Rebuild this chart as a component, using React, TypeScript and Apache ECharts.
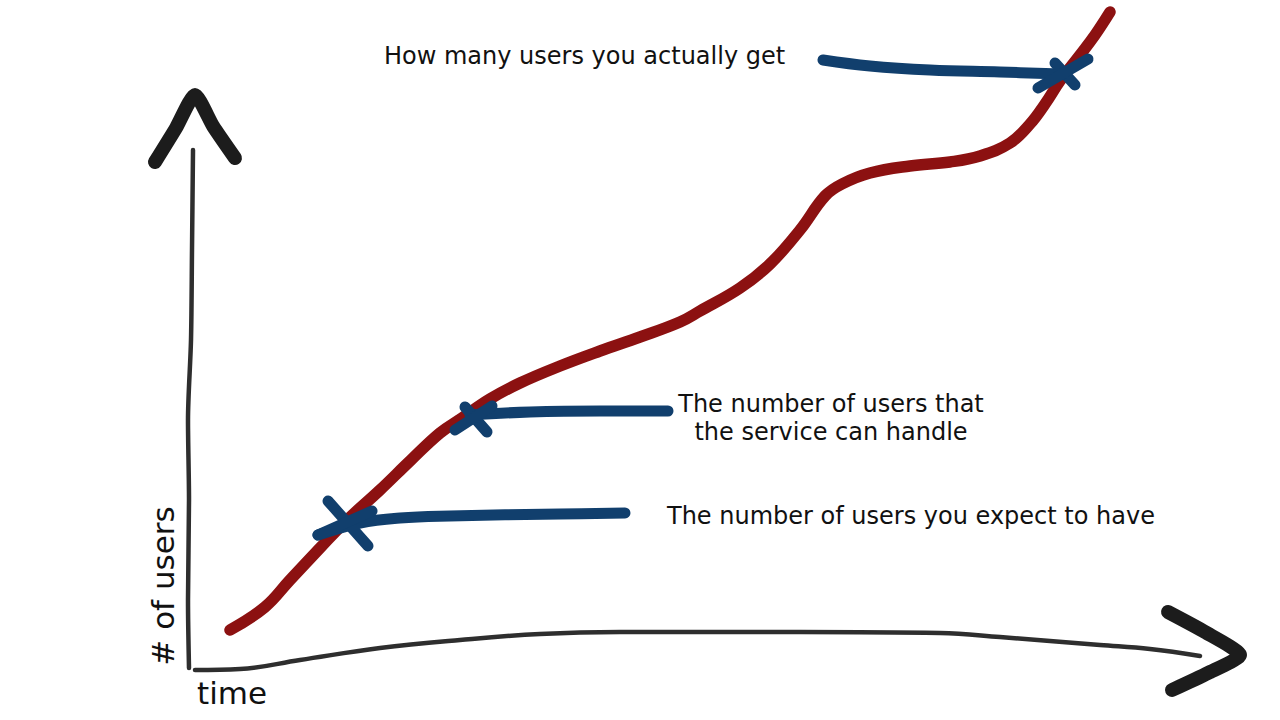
import React, { useEffect, useRef } from "react";
import * as echarts from "echarts";

// Sketch coordinates: time (x, left→right) and height on the page (y, top→bottom, axis inverted)
type Pt = [number, number];

const actualUsers: Pt[] = [
  [230, 630], [265, 607], [290, 580], [320, 548], [345, 522], [380, 490], [410, 461],
  [440, 433], [462, 418], [490, 399], [520, 383], [560, 366], [600, 351], [640, 337],
  [680, 322], [700, 311], [740, 288], [770, 264], [800, 230], [825, 196], [842, 184],
  [870, 173], [910, 166], [950, 162], [980, 156], [1010, 143], [1030, 124], [1045, 104],
  [1060, 81], [1080, 55], [1095, 35], [1110, 12],
];

const yAxisLine: Pt[] = [
  [193, 150], [192, 250], [191, 340], [188, 420], [189, 500], [188, 600], [189, 668],
];
const yArrowHead: Pt[] = [[155, 162], [176, 128], [195, 95], [213, 126], [235, 158]];

const xAxisLine: Pt[] = [
  [195, 670], [240, 669], [300, 660], [380, 648], [460, 640], [540, 634], [620, 632],
  [800, 632], [940, 633], [1000, 637], [1100, 645], [1150, 649], [1200, 656],
];
const xArrowHead: Pt[] = [[1168, 612], [1205, 632], [1240, 655], [1208, 673], [1172, 690]];

const gotLine: Pt[] = [[823, 60], [870, 66], [930, 70], [1000, 72], [1062, 74]];
const gotCross1: Pt[] = [[1055, 63], [1075, 85]];
const gotCross2: Pt[] = [[1038, 88], [1088, 59]];

const handleLine: Pt[] = [[668, 411], [600, 411], [530, 412], [470, 415]];
const handleCross1: Pt[] = [[465, 407], [487, 432]];
const handleCross2: Pt[] = [[492, 406], [455, 430]];

const expectLine: Pt[] = [[625, 513], [560, 514], [450, 516], [400, 518], [360, 523], [318, 535]];
const expectCross1: Pt[] = [[328, 501], [368, 546]];
const expectCross2: Pt[] = [[318, 535], [372, 511]];

const labels = {
  actual: "How many users you actually get",
  handle: "The number of users that\nthe service can handle",
  expect: "The number of users you expect to have",
  yName: "# of users",
  xName: "time",
};

const RED = "#8c1111";
const BLUE = "#113f6d";
const AXIS = "#2e2e2e";
const HEAD = "#1c1c1c";

function stroke(data: Pt[], color: string, width: number, smooth: boolean | number = true) {
  return {
    type: "line",
    data,
    smooth,
    symbol: "none",
    silent: true,
    lineStyle: { color, width, cap: "round", join: "round" },
  };
}

export default function App() {
  const ref = useRef<HTMLDivElement>(null);
  useEffect(() => {
    if (!ref.current) return;
    const chart = echarts.init(ref.current, null, { renderer: "svg" });
    const font = "DejaVu Sans";
    chart.setOption({
      animation: false,
      backgroundColor: "#ffffff",
      grid: { left: 0, right: 0, top: 0, bottom: 0 },
      xAxis: { type: "value", min: 0, max: 1280, show: false },
      yAxis: { type: "value", min: 0, max: 720, inverse: true, show: false },
      series: [
        stroke(yAxisLine, AXIS, 4.5, 0.3),
        stroke(xAxisLine, AXIS, 4.5, 0.4),
        stroke(yArrowHead, HEAD, 14, 0.2),
        stroke(xArrowHead, HEAD, 14, 0.2),
        stroke(actualUsers, RED, 11.5, 0.4),
        stroke(gotLine, BLUE, 11, 0.4),
        stroke(gotCross1, BLUE, 11, false),
        stroke(gotCross2, BLUE, 11, false),
        stroke(handleLine, BLUE, 11, 0.4),
        stroke(handleCross1, BLUE, 11, false),
        stroke(handleCross2, BLUE, 11, false),
        stroke(expectLine, BLUE, 11, 0.4),
        stroke(expectCross1, BLUE, 11, false),
        stroke(expectCross2, BLUE, 11, false),
      ],
      graphic: [
        {
          type: "text",
          left: 384,
          top: 44,
          style: { text: labels.actual, font: `24px '${font}'`, fill: "#111" },
        },
        {
          type: "text",
          x: 831,
          y: 390,
          style: {
            text: labels.handle,
            font: `24px '${font}'`,
            fill: "#111",
            align: "center",
            lineHeight: 28,
          },
        },
        {
          type: "text",
          left: 667,
          top: 504,
          style: { text: labels.expect, font: `24px '${font}'`, fill: "#111" },
        },
        {
          type: "text",
          x: 147,
          y: 586,
          rotation: Math.PI / 2,
          style: {
            text: labels.yName,
            font: `31px '${font}'`,
            fill: "#111",
            align: "center",
            verticalAlign: "top",
          },
        },
        {
          type: "text",
          left: 197,
          top: 677,
          style: { text: labels.xName, font: `31px '${font}'`, fill: "#111" },
        },
      ],
    });
    return () => chart.dispose();
  }, []);
  return (
    <div
      ref={ref}
      style={{ position: "fixed", left: 0, top: 0, width: 1280, height: 720, background: "#fff" }}
    />
  );
}
